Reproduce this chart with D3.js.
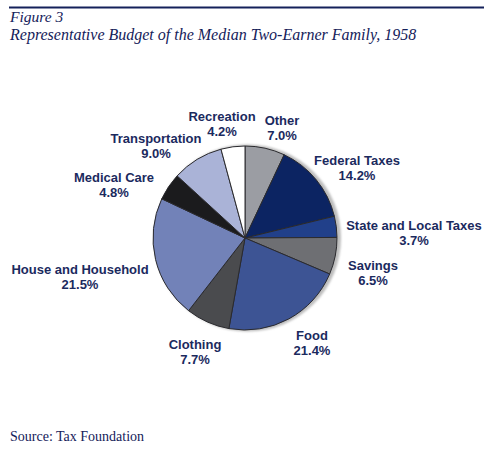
<!DOCTYPE html>
<html><head><meta charset="utf-8">
<script src="https://cdn.jsdelivr.net/npm/d3@7"></script>
<style>body{margin:0;background:#fff}svg{display:block}</style>
</head><body>
<svg id="c" width="500" height="465"></svg>
<script>
const categories = ["Other","Federal Taxes","State and Local Taxes","Savings","Food","Clothing","House and Household","Medical Care","Transportation","Recreation"];
const values = [7.0,14.2,3.7,6.5,21.4,7.7,21.5,4.8,9.0,4.2];
const valueLabels = ["7.0%","14.2%","3.7%","6.5%","21.4%","7.7%","21.5%","4.8%","9.0%","4.2%"];
const colors = ["#9b9da3","#0c2462","#21408a","#6e6f73","#3d5494","#4a4b4e","#7282b8","#1b1b1d","#aab3d7","#ffffff"];
const labelPos = [[282,125],[357,165],[414,230],[373,270],[312,340],[195,349],[80,274],[114,182],[156,143],[222,121]];

const svg = d3.select("#c");
const navy = "#14215a";
svg.append("line").attr("x1",9).attr("x2",484).attr("y1",7.5).attr("y2",7.5).attr("stroke",navy).attr("stroke-width",2);
svg.append("text").attr("x",10).attr("y",22).attr("font-family","Liberation Serif, serif").attr("font-style","italic").attr("font-size",15.5).attr("fill",navy).text("Figure 3");
svg.append("text").attr("x",10).attr("y",40).attr("font-family","Liberation Serif, serif").attr("font-style","italic").attr("font-size",16).attr("fill",navy).text("Representative Budget of the Median Two-Earner Family, 1958");
svg.append("text").attr("x",10).attr("y",441).attr("font-family","Liberation Serif, serif").attr("font-size",14).attr("fill",navy).text("Source: Tax Foundation");

const cx=245, cy=238, r=92;
const defs = svg.append("defs");
defs.append("filter").attr("id","blur").append("feGaussianBlur").attr("stdDeviation",1.2);
const g = svg.append("g").attr("transform",`translate(${cx},${cy})`);
g.append("circle").attr("cx",2.5).attr("cy",0).attr("r",r+1.5).attr("fill","#bdbdbd").attr("filter","url(#blur)");
const pie = d3.pie().sort(null).value(d=>d)(values);
const arc = d3.arc().innerRadius(0).outerRadius(r);
g.selectAll("path").data(pie).join("path").attr("d",arc)
  .attr("fill",(d,i)=>colors[i]).attr("stroke","#2a2a2e").attr("stroke-width",1);

const lab = svg.append("g").attr("font-family","Liberation Sans, Arial, sans-serif").attr("font-size",13).attr("font-weight","bold").attr("fill","#1b2a5e").attr("text-anchor","middle");
categories.forEach((c,i)=>{
  const t = lab.append("text").attr("x",labelPos[i][0]).attr("y",labelPos[i][1]);
  t.append("tspan").attr("x",labelPos[i][0]).text(c);
  t.append("tspan").attr("x",labelPos[i][0]).attr("dy",15).text(valueLabels[i]);
});
</script>
</body></html>
